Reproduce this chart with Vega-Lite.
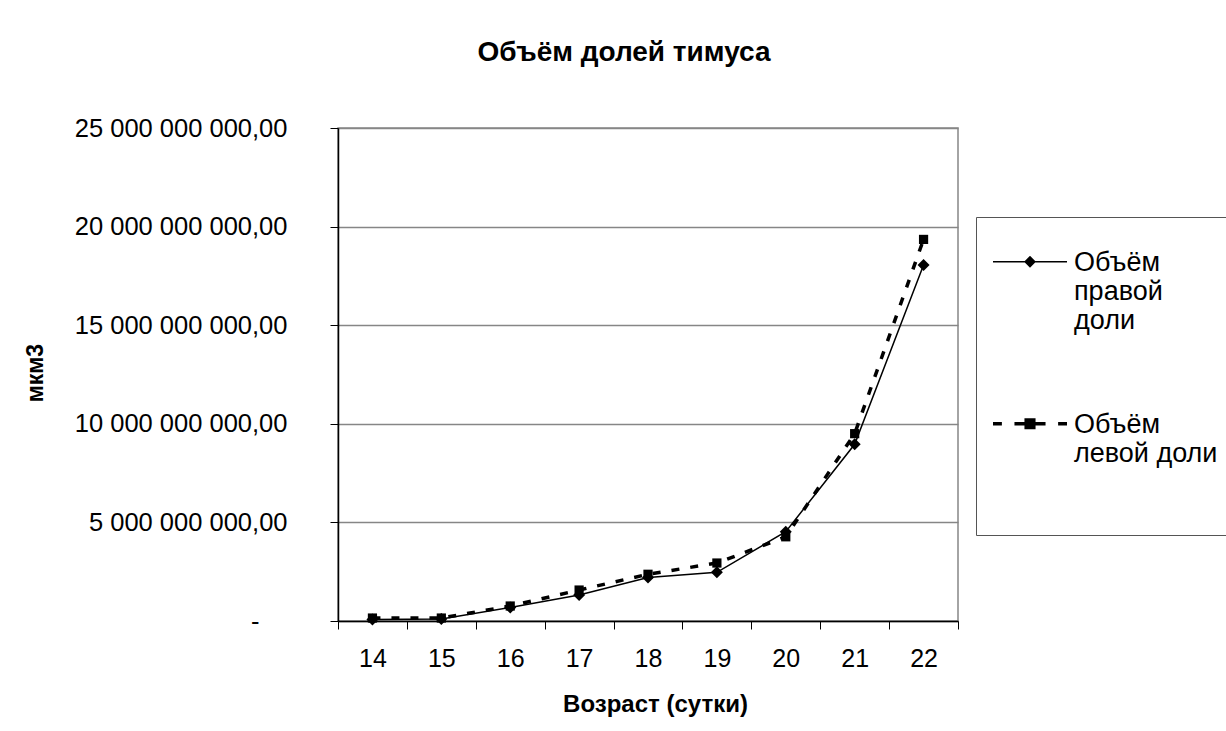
{
  "$schema": "https://vega.github.io/schema/vega-lite/v6.json",
  "width": 620,
  "height": 493,
  "autosize": {"type": "none"},
  "padding": {"left": 338, "top": 128, "right": 268, "bottom": 110},
  "background": "white",
  "title": {"text": "Объём долей тимуса", "font": "Liberation Sans", "fontSize": 28, "fontWeight": "bold", "color": "#000000", "anchor": "middle", "frame": "group", "dx": -24, "baseline": "alphabetic", "offset": 27},
  "config": {
    "locale": {"number": {"decimal": ",", "thousands": " ", "grouping": [3], "currency": ["", ""]}},
    "font": "Liberation Sans",
    "view": {"stroke": "#868686", "strokeWidth": 1.5}
  },
  "data": {"values": [
    {"day": 14, "series": "right", "value": 80000000},
    {"day": 15, "series": "right", "value": 100000000},
    {"day": 16, "series": "right", "value": 690000000},
    {"day": 17, "series": "right", "value": 1320000000},
    {"day": 18, "series": "right", "value": 2200000000},
    {"day": 19, "series": "right", "value": 2470000000},
    {"day": 20, "series": "right", "value": 4530000000},
    {"day": 21, "series": "right", "value": 8960000000},
    {"day": 22, "series": "right", "value": 18050000000},
    {"day": 14, "series": "left", "value": 150000000},
    {"day": 15, "series": "left", "value": 150000000},
    {"day": 16, "series": "left", "value": 760000000},
    {"day": 17, "series": "left", "value": 1570000000},
    {"day": 18, "series": "left", "value": 2370000000},
    {"day": 19, "series": "left", "value": 2940000000},
    {"day": 20, "series": "left", "value": 4270000000},
    {"day": 21, "series": "left", "value": 9500000000},
    {"day": 22, "series": "left", "value": 19350000000}
  ]},
  "encoding": {
    "x": {"field": "day", "type": "ordinal", "scale": {"type": "band", "paddingInner": 0, "paddingOuter": 0},
      "axis": {"title": "Возраст (сутки)", "labelAngle": 0, "tickBand": "extent", "tickSize": 8, "tickColor": "black", "tickWidth": 1, "domainColor": "black", "domainWidth": 1.5, "labelFont": "Liberation Sans", "labelFontSize": 25, "labelPadding": 17, "labelColor": "black", "titleFont": "Liberation Sans", "titleFontSize": 24, "titleFontWeight": "bold", "titleX": 317, "titleY": 90, "titleAlign": "center", "titleBaseline": "alphabetic", "titleColor": "black", "grid": false}},
    "y": {"field": "value", "type": "quantitative", "scale": {"domain": [0, 25000000000], "nice": false},
      "axis": {"title": "мкм3", "values": [0, 5000000000, 10000000000, 15000000000, 20000000000, 25000000000], "format": ",.2f", "labelExpr": "datum.value == 0 ? '-' : datum.label", "labelLimit": 500, "labelFont": "Liberation Sans", "labelFontSize": 25.5, "labelPadding": {"condition": {"test": "datum.value == 0", "value": 71}, "value": 43}, "labelColor": "black", "tickSize": 8, "tickColor": "black", "domainColor": "black", "domainWidth": 1.5, "grid": true, "gridColor": "#868686", "gridWidth": 1.5, "titleFont": "Liberation Sans", "titleFontSize": 23, "titleFontWeight": "bold", "titleColor": "black", "titleX": -295.5, "titleY": 244.5, "titleAlign": "center", "titleBaseline": "alphabetic", "titleAngle": -90}}
  },
  "layer": [
    {"mark": {"type": "point", "filled": true, "color": "black", "opacity": 0, "size": 100},
      "encoding": {"shape": {"field": "series", "type": "nominal",
        "scale": {"domain": ["right", "left"], "range": [
          "M-1,-0.27L1,-0.27L1,-0.23L-1,-0.23ZM-0.16,-0.25L0,-0.41L0.16,-0.25L0,-0.09ZM0,-1.224",
          "M-1,-0.297L-0.76,-0.297L-0.76,-0.203L-1,-0.203ZM-0.42,-0.297L-0.15,-0.297L-0.15,-0.203L-0.42,-0.203ZM0.15,-0.297L0.42,-0.297L0.42,-0.203L0.15,-0.203ZM0.76,-0.297L1,-0.297L1,-0.203L0.76,-0.203ZM-0.15,-0.4L0.15,-0.4L0.15,-0.1L-0.15,-0.1ZM0,2.24"]},
        "legend": {"orient": "none", "legendX": 638, "legendY": 89, "title": null, "padding": 16, "strokeColor": "#555555", "fillColor": "white", "symbolSize": 5476, "symbolStrokeWidth": 1.5, "symbolFillColor": "black", "symbolStrokeColor": "black", "symbolOpacity": 1, "labelFont": "Liberation Sans", "labelFontSize": 27, "labelColor": "black", "labelBaseline": "alphabetic", "labelOffset": 6, "labelLimit": 1000, "rowPadding": 61,
          "labelExpr": "datum.value == 'right' ? ['Объём', 'правой', 'доли'] : ['Объём', 'левой доли']"}}}},
    {"transform": [{"filter": "datum.series == 'right'"}], "mark": {"type": "line", "color": "black", "strokeWidth": 1.5}, "encoding": {}},
    {"transform": [{"filter": "datum.series == 'left'"}], "mark": {"type": "line", "color": "black", "strokeWidth": 3.5, "strokeDash": [8, 11]}, "encoding": {}},
    {"transform": [{"filter": "datum.series == 'left'"}], "mark": {"type": "point", "filled": true, "color": "black", "opacity": 1, "size": 85, "shape": "square"}, "encoding": {}},
    {"transform": [{"filter": "datum.series == 'right'"}], "mark": {"type": "point", "filled": true, "color": "black", "opacity": 1, "size": 144, "shape": "diamond"}, "encoding": {}}
  ]
}
